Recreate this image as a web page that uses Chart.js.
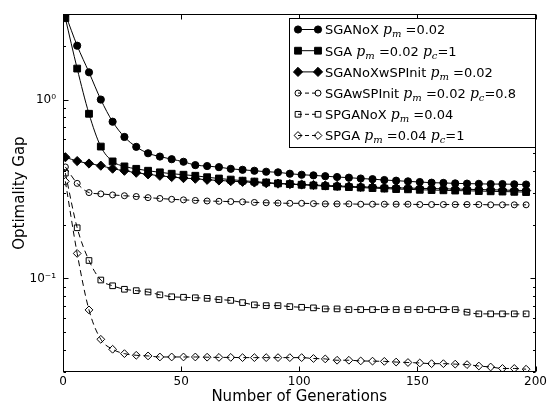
<!DOCTYPE html>
<html>
<head>
<meta charset="utf-8">
<script src="https://cdn.jsdelivr.net/npm/chart.js@4.4.0/dist/chart.umd.min.js"></script>
<style>
  html, body { margin: 0; padding: 0; background: #fff; }
  #wrap { width: 550px; height: 407px; }
</style>
</head>
<body>
<div id="wrap"><canvas id="gapChart" width="550" height="407"></canvas></div>
<script>
// generations where the markers sit
const generations = [1, 6, 11, 16, 21, 26, 31, 36, 41, 46, 51, 56, 61, 66, 71, 76, 81, 86, 91, 96,
  101, 106, 111, 116, 121, 126, 131, 136, 141, 146, 151, 156, 161, 166, 171, 176, 181, 186, 191, 196];

const sgaNoX = [3.0, 2.0, 1.42, 1.0, 0.752, 0.618, 0.544, 0.501, 0.48, 0.464, 0.449, 0.43, 0.425, 0.419, 0.41, 0.405, 0.40, 0.395, 0.392, 0.385,
  0.38, 0.377, 0.373, 0.369, 0.366, 0.362, 0.359, 0.355, 0.352, 0.349, 0.346, 0.343, 0.342, 0.340, 0.339, 0.338, 0.337, 0.337, 0.336, 0.335];
const sga = [2.85, 1.49, 0.833, 0.546, 0.451, 0.423, 0.41, 0.40, 0.392, 0.385, 0.38, 0.375, 0.368, 0.362, 0.357, 0.352, 0.348, 0.344, 0.340, 0.337,
  0.334, 0.331, 0.328, 0.326, 0.324, 0.322, 0.320, 0.318, 0.316, 0.315, 0.313, 0.312, 0.311, 0.310, 0.309, 0.308, 0.307, 0.306, 0.305, 0.304];
const sgaNoXwSPInit = [0.476, 0.453, 0.439, 0.427, 0.411, 0.40, 0.39, 0.382, 0.375, 0.369, 0.364, 0.361, 0.356, 0.353, 0.350, 0.347, 0.344, 0.341, 0.339, 0.337,
  0.335, 0.333, 0.331, 0.329, 0.327, 0.325, 0.324, 0.322, 0.321, 0.320, 0.319, 0.318, 0.317, 0.316, 0.315, 0.314, 0.313, 0.312, 0.311, 0.310];
const sgaWSPInit = [0.42, 0.34, 0.302, 0.297, 0.293, 0.29, 0.287, 0.283, 0.28, 0.277, 0.275, 0.273, 0.271, 0.27, 0.269, 0.268, 0.266, 0.265, 0.264, 0.263,
  0.263, 0.262, 0.261, 0.261, 0.261, 0.26, 0.26, 0.26, 0.26, 0.26, 0.259, 0.259, 0.259, 0.259, 0.259, 0.259, 0.258, 0.258, 0.258, 0.258];
const spgaNoX = [0.388, 0.192, 0.126, 0.098, 0.091, 0.087, 0.0855, 0.084, 0.081, 0.079, 0.0785, 0.078, 0.0774, 0.0762, 0.0754, 0.0733, 0.0712, 0.0705, 0.0705, 0.0696,
  0.069, 0.0685, 0.0676, 0.0676, 0.067, 0.067, 0.067, 0.067, 0.067, 0.067, 0.067, 0.067, 0.067, 0.067, 0.0648, 0.0634, 0.0634, 0.0634, 0.0634, 0.0634];
const spga = [0.349, 0.138, 0.0667, 0.0457, 0.0402, 0.038, 0.0372, 0.0369, 0.0364, 0.0364, 0.0364, 0.0364, 0.0363, 0.0362, 0.0362, 0.0361, 0.0361, 0.0361, 0.0361, 0.0361,
  0.0361, 0.0357, 0.0355, 0.0349, 0.0349, 0.0346, 0.0345, 0.0344, 0.0341, 0.0339, 0.0337, 0.0334, 0.0334, 0.0332, 0.033, 0.0324, 0.032, 0.0314, 0.0314, 0.0311];

const seriesValues = [sgaNoX, sga, sgaNoXwSPInit, sgaWSPInit, spgaNoX, spga];
const seriesNames = ['SGANoX', 'SGA', 'SGANoXwSPInit', 'SGAwSPInit', 'SPGANoX', 'SPGA'];
const pmValues = ['0.02', '0.02', '0.02', '0.02', '0.04', '0.04'];
const pcValues = [null, '1', null, '0.8', null, '1'];

const xTicks = [0, 50, 100, 150, 200];
const yMajor = [0.1, 1];
const yMinor = [0.03, 0.04, 0.05, 0.06, 0.07, 0.08, 0.09, 0.2, 0.3, 0.4, 0.5, 0.6, 0.7, 0.8, 0.9, 2, 3];

// marker look per series (filled ones solid, open ones dashed)
const styles = [
  { shape: 'circle', r: 3.6, fill: '#000', dash: [] },
  { shape: 'rect', r: 4.8, fill: '#000', dash: [] },
  { shape: 'rectRot', r: 4.6, fill: '#000', dash: [] },
  { shape: 'circle', r: 3.0, fill: 'rgba(0,0,0,0)', dash: [6, 4] },
  { shape: 'rect', r: 4.0, fill: 'rgba(0,0,0,0)', dash: [6, 4] },
  { shape: 'rectRot', r: 3.9, fill: 'rgba(0,0,0,0)', dash: [6, 4] }
];

const FONT = '"DejaVu Sans", sans-serif';
const MATH = '"DejaVu Serif", serif';

const datasets = seriesValues.map((vals, i) => ({
  label: seriesNames[i],
  data: generations.map((g, k) => ({ x: g, y: vals[k] })),
  borderColor: '#000',
  borderWidth: 1,
  borderDash: styles[i].dash,
  pointStyle: styles[i].shape,
  pointRadius: styles[i].r,
  pointBackgroundColor: styles[i].fill,
  pointBorderColor: '#000',
  pointBorderWidth: 1,
  cubicInterpolationMode: 'monotone',
  fill: false,
  order: 6 - i
}));

// frame, inward ticks and the legend box
const framePlugin = {
  id: 'frameAndLegend',
  afterDraw(chart) {
    const ctx = chart.ctx;
    const a = chart.chartArea;
    const xs = chart.scales.x, ys = chart.scales.y;
    const L = Math.round(a.left) + 0.5, R = Math.round(a.right) - 0.5;
    const T = Math.round(a.top) + 0.5, B = Math.round(a.bottom) - 0.5;
    ctx.save();
    ctx.strokeStyle = '#000';
    ctx.lineWidth = 1;
    ctx.setLineDash([]);
    ctx.strokeRect(L, T, R - L, B - T);

    ctx.beginPath();
    xTicks.forEach(v => {
      const px = Math.round(xs.getPixelForValue(v)) + 0.5;
      ctx.moveTo(px, B); ctx.lineTo(px, B - 5);
      ctx.moveTo(px, T); ctx.lineTo(px, T + 5);
    });
    yMajor.forEach(v => {
      const py = Math.round(ys.getPixelForValue(v)) + 0.5;
      ctx.moveTo(L, py); ctx.lineTo(L + 5, py);
      ctx.moveTo(R, py); ctx.lineTo(R - 5, py);
    });
    yMinor.forEach(v => {
      const py = Math.round(ys.getPixelForValue(v)) + 0.5;
      ctx.moveTo(L, py); ctx.lineTo(L + 2.5, py);
      ctx.moveTo(R, py); ctx.lineTo(R - 2.5, py);
    });
    ctx.stroke();

    // legend
    const lx = 289.5, ly = 18.5, lw = 246, lh = 129;
    ctx.fillStyle = '#fff';
    ctx.fillRect(lx, ly, lw, lh);
    ctx.strokeRect(lx, ly, lw, lh);

    seriesNames.forEach((name, i) => {
      const y = 29.5 + i * 21.2;
      const st = styles[i];
      ctx.strokeStyle = '#000';
      ctx.lineWidth = 1;
      ctx.setLineDash(st.dash.length ? [4, 3] : []);
      ctx.beginPath();
      ctx.moveTo(298, y); ctx.lineTo(318, y);
      ctx.stroke();
      ctx.setLineDash([]);
      ctx.fillStyle = st.fill;
      [298, 318].forEach(px => {
        Chart.helpers.drawPoint(ctx, { pointStyle: st.shape, radius: st.r, borderWidth: 1, rotation: 0 }, px, y);
      });

      const parts = [
        { t: name + ' ', f: '13px ' + FONT },
        { t: 'p', f: 'italic 14px ' + MATH },
        { t: 'm', f: 'italic 10px ' + MATH, dy: 3 },
        { t: ' =' + pmValues[i], f: '13px ' + FONT }
      ];
      if (pcValues[i]) {
        parts.push({ t: ' ', f: '13px ' + FONT });
        parts.push({ t: 'p', f: 'italic 14px ' + MATH });
        parts.push({ t: 'c', f: 'italic 10px ' + MATH, dy: 3 });
        parts.push({ t: '=' + pcValues[i], f: '13px ' + FONT });
      }
      let tx = 325;
      ctx.fillStyle = '#000';
      ctx.textBaseline = 'alphabetic';
      ctx.textAlign = 'left';
      parts.forEach(p => {
        ctx.font = p.f;
        ctx.fillText(p.t, tx, y + 4.8 + (p.dy || 0));
        tx += ctx.measureText(p.t).width;
      });
    });
    ctx.restore();
  }
};

new Chart(document.getElementById('gapChart'), {
  type: 'line',
  data: { datasets },
  options: {
    responsive: false,
    devicePixelRatio: 1,
    animation: false,
    layout: { padding: { top: 12, right: 13, left: 0, bottom: 0 } },
    plugins: { legend: { display: false }, tooltip: { enabled: false } },
    scales: {
      x: {
        type: 'linear', min: 0, max: 200,
        afterBuildTicks: s => { s.ticks = xTicks.map(v => ({ value: v })); },
        ticks: { color: '#000', font: { family: FONT, size: 12 }, padding: 3, maxRotation: 0, autoSkip: false },
        grid: { display: false, drawTicks: false },
        border: { display: false },
        title: { display: true, text: 'Number of Generations', color: '#000',
                 font: { family: FONT, size: 15 }, padding: { top: 0, bottom: 1 } },
        afterFit: s => { s.height = 35; }
      },
      y: {
        type: 'logarithmic', min: 0.03, max: 3,
        afterBuildTicks: s => { s.ticks = yMinor.concat(yMajor).sort((a, b) => a - b).map(v => ({ value: v })); },
        ticks: {
          color: '#000', font: { family: FONT, size: 12 }, padding: 7, autoSkip: false,
          callback: v => v === 1 ? '10\u2070' : (v === 0.1 ? '10\u207B\u00B9' : '')
        },
        grid: { display: false, drawTicks: false },
        border: { display: false },
        title: { display: true, text: 'Optimality Gap', color: '#000',
                 font: { family: FONT, size: 15 }, padding: { top: 11, bottom: 0 } },
        afterFit: s => { s.width = 63; }
      }
    }
  },
  plugins: [framePlugin]
});
</script>
</body>
</html>
